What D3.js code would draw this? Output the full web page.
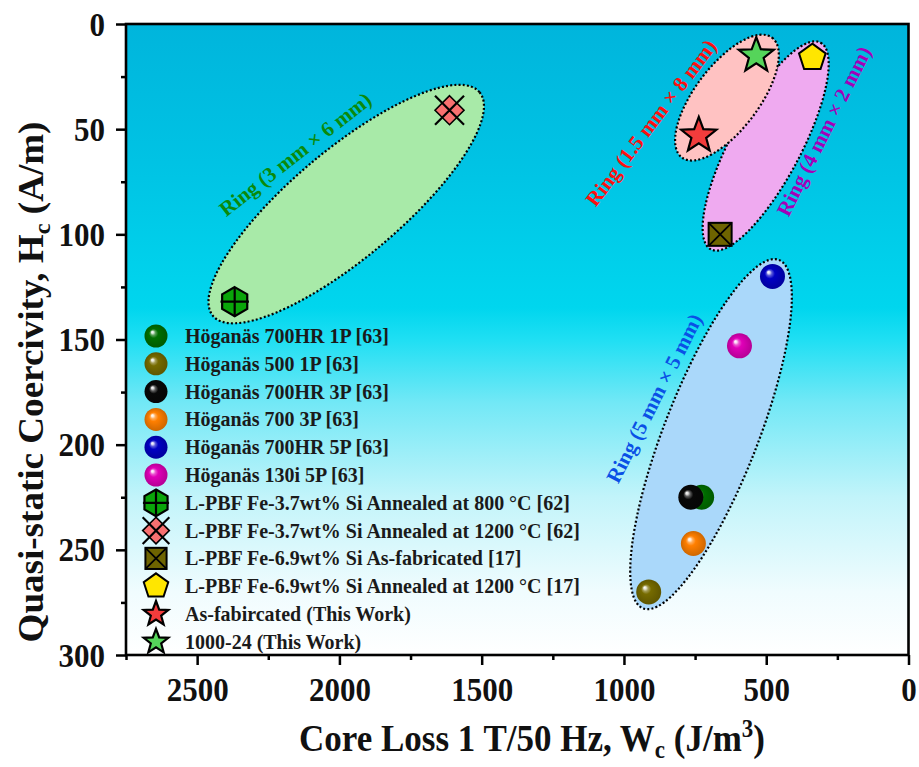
<!DOCTYPE html>
<html>
<head>
<meta charset="utf-8">
<script src="https://cdn.jsdelivr.net/npm/d3@7"></script>
<style>
  html, body { margin: 0; padding: 0; background: #ffffff; }
  svg { display: block; font-family: "Liberation Serif", "Times New Roman", serif; font-weight: bold; }
</style>
</head>
<body>
<svg id="chart" width="919" height="767"></svg>
<script>
// ---- data -------------------------------------------------------------
const seriesNames = [
  "Höganäs 700HR 1P [63]",
  "Höganäs 500 1P [63]",
  "Höganäs 700HR 3P [63]",
  "Höganäs 700 3P [63]",
  "Höganäs 700HR 5P [63]",
  "Höganäs 130i 5P [63]",
  "L-PBF Fe-3.7wt% Si Annealed at 800 °C [62]",
  "L-PBF Fe-3.7wt% Si Annealed at 1200 °C [62]",
  "L-PBF Fe-6.9wt% Si As-fabricated [17]",
  "L-PBF Fe-6.9wt% Si Annealed at 1200 °C [17]",
  "As-fabircated (This Work)",
  "1000-24 (This Work)"
];
// Core loss at 1 T / 50 Hz (J/m^3)
const coreLoss   = [727, 913, 765, 756, 478, 594, 2368, 1613, 662, 338, 737, 535];
// Quasi-static coercivity (A/m)
const coercivity = [225, 270, 225, 247, 120, 153, 132, 41, 100, 16, 53, 15];

const xTickValues = [2500, 2000, 1500, 1000, 500, 0];
const xMinorTicks = [2750, 2250, 1750, 1250, 750, 250];
const yTickValues = [0, 50, 100, 150, 200, 250, 300];
const yMinorTicks = [25, 75, 125, 175, 225, 275];

const ringLabels = ["Ring (3 mm × 6 mm)", "Ring (1.5 mm × 8 mm)", "Ring (4 mm × 2 mm)", "Ring (5 mm × 5 mm)"];

// ---- marker styling ------------------------------------------------------
const markerShape = ["sphere", "sphere", "sphere", "sphere", "sphere", "sphere",
                     "hexcross", "diamondx", "squarex", "pentagon", "star", "star"];
const markerColor = ["#006f00", "#766b00", "#080808", "#ff7f00", "#0000c4", "#e000b8",
                     "#0aa50a", "#f77070", "#6e6400", "#ffe600", "#f23c3c", "#55d45a"];

// ---- layout -------------------------------------------------------------
const svg = d3.select("#chart");
const L = 126, R = 908.5, T = 24, B = 655;
const x = d3.scaleLinear().domain([2750, 0]).range([L, R]);
const y = d3.scaleLinear().domain([0, 300]).range([T, B]);
const stretch = 1.1;

const defs = svg.append("defs");

// plot background: cyan at the top fading to white
const bg = defs.append("linearGradient").attr("id", "plotBg")
  .attr("x1", 0).attr("y1", 0).attr("x2", 0).attr("y2", 1);
[[0, "#00b5dc"], [0.22, "#00c3e4"], [0.45, "#00d6ee"], [0.5, "#1fdff3"],
 [0.6, "#72e8f6"], [0.75, "#c2f4fa"], [0.9, "#f0fcfe"], [1, "#ffffff"]]
  .forEach(([o, c]) => bg.append("stop").attr("offset", o).attr("stop-color", c));

// shaded spheres
function sphereGradient(color, i) {
  const c = d3.color(color);
  const g = defs.append("radialGradient").attr("id", "sph" + i)
    .attr("cx", "50%").attr("cy", "50%").attr("r", "50%")
    .attr("fx", "33%").attr("fy", "32%");
  const light = d3.interpolateRgb(color, "#ffffff");
  g.append("stop").attr("offset", 0).attr("stop-color", "#ffffff");
  g.append("stop").attr("offset", 0.1).attr("stop-color", light(0.85));
  g.append("stop").attr("offset", 0.22).attr("stop-color", light(0.35));
  g.append("stop").attr("offset", 0.4).attr("stop-color", color);
  g.append("stop").attr("offset", 1).attr("stop-color", c.darker(0.6).formatHex());
}
markerColor.forEach((c, i) => { if (markerShape[i] === "sphere") sphereGradient(c, i); });

svg.append("rect").attr("x", L).attr("y", T).attr("width", R - L).attr("height", B - T)
  .attr("fill", "url(#plotBg)");

const plot = svg.append("g");

// ---- ring groupings (dotted ellipses) -------------------------------------
const rings = [
  { cx: 1976, cy: 85.6, a: 174, b: 54, angle: -40,   fill: "#a8eaa8", label: 0, lx: 2155, ly: 62,  la: -38, color: "#0b8a0b" },
  { cx: 638,  cy: 35,   a: 75,  b: 32, angle: -53,   fill: "#ffc2c2", label: 1, lx: 905,  ly: 47,  la: -53, color: "#ff1010" },
  { cx: 502,  cy: 58,   a: 117, b: 35, angle: -62,   fill: "#efaaf0", label: 2, lx: 297,  ly: 51,  la: -63.5, color: "#a400b8" },
  { cx: 694,  cy: 195,  a: 187, b: 47, angle: -68.7, fill: "#aad8fa", label: 3, lx: 893,  ly: 178, la: -63, color: "#0a50e6" }
];
// violet ring sits under the pink one
const ringOrder = [0, 2, 1, 3];
ringOrder.forEach(k => {
  const r = rings[k];
  plot.append("ellipse")
    .attr("transform", `translate(${x(r.cx)},${y(r.cy)}) rotate(${r.angle})`)
    .attr("rx", r.a).attr("ry", r.b)
    .attr("fill", r.fill).attr("stroke", "#000").attr("stroke-width", 2.2)
    .attr("stroke-dasharray", "2,2.2");
});
rings.forEach(r => {
  plot.append("text")
    .attr("transform", `translate(${x(r.lx)},${y(r.ly)}) rotate(${r.la})`)
    .attr("text-anchor", "middle").attr("dominant-baseline", "central")
    .attr("font-size", 21).attr("fill", r.color)
    .text(ringLabels[r.label]);
});

// ---- marker drawing ------------------------------------------------------
function starPath(R1, R2) {
  const pts = [];
  for (let i = 0; i < 10; i++) {
    const a = -Math.PI / 2 + i * Math.PI / 5;
    const rr = i % 2 === 0 ? R1 : R2;
    pts.push([rr * Math.cos(a), rr * Math.sin(a)]);
  }
  return "M" + pts.map(p => p.join(",")).join("L") + "Z";
}
function polyPath(n, r, start) {
  const pts = d3.range(n).map(i => {
    const a = start + i * 2 * Math.PI / n;
    return [r * Math.cos(a), r * Math.sin(a)];
  });
  return "M" + pts.map(p => p.join(",")).join("L") + "Z";
}

function drawMarker(g, i, s, starR) {
  const shape = markerShape[i], col = markerColor[i];
  if (shape === "sphere") {
    g.append("circle").attr("r", 12.5 * s).attr("fill", `url(#sph${i})`);
  } else if (shape === "hexcross") {
    const r = 14.5 * s;
    g.append("path").attr("d", polyPath(6, r, -Math.PI / 2))
      .attr("fill", col).attr("stroke", "#000").attr("stroke-width", 2.2);
    g.append("path").attr("d", `M${-r * 0.98},0H${r * 0.98}M0,${-r}V${r}`)
      .attr("stroke", "#000").attr("stroke-width", 2.2);
  } else if (shape === "diamondx") {
    const r = 14.5 * s;
    g.append("path").attr("d", `M0,${-r}L${r},0L0,${r}L${-r},0Z`)
      .attr("fill", col).attr("stroke", "#000").attr("stroke-width", 1.6);
    g.append("path").attr("d", `M${-r},${-r}L${r},${r}M${-r},${r}L${r},${-r}`)
      .attr("stroke", "#000").attr("stroke-width", 2.2);
  } else if (shape === "squarex") {
    const r = 11.5 * s;
    g.append("rect").attr("x", -r).attr("y", -r).attr("width", 2 * r).attr("height", 2 * r)
      .attr("fill", col).attr("stroke", "#000").attr("stroke-width", 2);
    g.append("path").attr("d", `M${-r},${-r}L${r},${r}M${-r},${r}L${r},${-r}`)
      .attr("stroke", "#000").attr("stroke-width", 1.8);
  } else if (shape === "pentagon") {
    g.append("path").attr("d", polyPath(5, 14 * s, -Math.PI / 2))
      .attr("fill", col).attr("stroke", "#000").attr("stroke-width", 2);
  } else if (shape === "star") {
    g.append("path").attr("d", starPath(starR, starR * 0.42))
      .attr("fill", col).attr("stroke", "#000").attr("stroke-width", 2.2)
      .attr("stroke-linejoin", "miter");
  }
}

coreLoss.forEach((v, i) => {
  const g = plot.append("g").attr("transform", `translate(${x(v)},${y(coercivity[i])})`);
  drawMarker(g, i, 1, 18.5);
});

// ---- legend ---------------------------------------------------------------
const legend = svg.append("g");
seriesNames.forEach((name, i) => {
  const yy = 336 + i * 27.8;
  const g = legend.append("g").attr("transform", `translate(156,${yy})`);
  drawMarker(g, i, 0.92, 13);
  legend.append("text")
    .attr("transform", `translate(185,${yy + 7}) scale(1,${stretch})`)
    .attr("font-size", 20).attr("fill", "#1a1a1a")
    .text(name);
});

// ---- axes -------------------------------------------------------------------
const xAxis = svg.append("g").attr("transform", `translate(0,${B})`)
  .call(d3.axisBottom(x).tickValues(xTickValues).tickSize(10).tickFormat(d3.format("d")));
svg.append("g").attr("transform", `translate(0,${B})`)
  .call(d3.axisBottom(x).tickValues(xMinorTicks).tickSize(5).tickFormat(""));
const yAxis = svg.append("g").attr("transform", `translate(${L},0)`)
  .call(d3.axisLeft(y).tickValues(yTickValues).tickSize(10).tickFormat(d3.format("d")));
svg.append("g").attr("transform", `translate(${L},0)`)
  .call(d3.axisLeft(y).tickValues(yMinorTicks).tickSize(5).tickFormat(""));

svg.selectAll(".domain").remove();
svg.selectAll(".tick line").attr("stroke", "#000").attr("stroke-width", 2.5);
xAxis.selectAll(".tick text")
  .attr("y", null).attr("dy", null)
  .attr("transform", `translate(0,46) scale(1,${stretch})`)
  .attr("font-size", 31).attr("font-family", "Liberation Serif, serif").attr("fill", "#111");
yAxis.selectAll(".tick text")
  .attr("x", null).attr("dy", null)
  .attr("transform", `translate(-21,11) scale(1,${stretch})`)
  .attr("font-size", 31).attr("font-family", "Liberation Serif, serif").attr("fill", "#111");

// plot frame
svg.append("rect").attr("x", L).attr("y", T).attr("width", R - L).attr("height", B - T)
  .attr("fill", "none").attr("stroke", "#000").attr("stroke-width", 2.6);

// axis titles
const xt = svg.append("text")
  .attr("transform", `translate(532,751) scale(1,${stretch})`)
  .attr("text-anchor", "middle").attr("font-size", 35).attr("fill", "#111");
xt.append("tspan").text("Core Loss 1 T/50 Hz, W");
xt.append("tspan").attr("font-size", 23).attr("dy", 6).text("c");
xt.append("tspan").attr("dy", -6).text(" (J/m");
xt.append("tspan").attr("font-size", 23).attr("dy", -13).text("3");
xt.append("tspan").attr("dy", 13).text(")");

const yt = svg.append("text")
  .attr("transform", `translate(43,382) rotate(-90) scale(1.06,1)`)
  .attr("text-anchor", "middle").attr("font-size", 35).attr("fill", "#111");
yt.append("tspan").text("Quasi-static Coercivity, H");
yt.append("tspan").attr("font-size", 23).attr("dy", 7).text("c");
yt.append("tspan").attr("dy", -7).text(" (A/m)");
</script>
</body>
</html>
